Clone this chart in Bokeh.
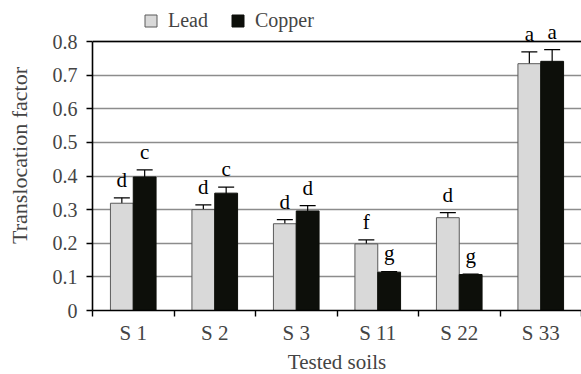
import numpy as np
from bokeh.plotting import figure
from bokeh.models import (ColumnDataSource, Whisker, TeeHead, LabelSet, Legend,
                          LegendItem, FixedTicker, Span, Range1d)
from bokeh.embed import file_html
from bokeh.resources import INLINE

soils = ["S 1", "S 2", "S 3", "S 11", "S 22", "S 33"]
lead = [0.319, 0.300, 0.258, 0.198, 0.276, 0.734]
lead_err = [0.016, 0.014, 0.012, 0.012, 0.015, 0.035]
copper = [0.397, 0.349, 0.296, 0.114, 0.107, 0.741]
copper_err = [0.021, 0.018, 0.016, 0.002, 0.001, 0.035]
lead_letters = ["d", "d", "d", "f", "d", "a"]
copper_letters = ["c", "c", "d", "g", "g", "a"]
y_ticks = [0, 0.1, 0.2, 0.3, 0.4, 0.5, 0.6, 0.7, 0.8]

FONT = "Liberation Serif"
BAR_W = 0.28

# layout: frame extends above the 0.8 line so labels/legend are not clipped
FRAME_W = 489
FRAME_H = 310
AXIS_PX = 269          # pixel height of 0 .. 0.8
y_top = y_ticks[-1] * FRAME_H / AXIS_PX

centers = np.arange(len(soils)) + 0.5

def make_source(vals, errs, letters, shift):
    v = np.array(vals)
    e = np.array(errs)
    return ColumnDataSource(dict(
        x=centers + shift, top=v, upper=v + e, lower=v - e, letter=letters))

src_lead = make_source(lead, lead_err, lead_letters, -BAR_W / 2)
src_cu = make_source(copper, copper_err, copper_letters, BAR_W / 2)

p = figure(frame_width=FRAME_W, frame_height=FRAME_H, output_backend="svg",
           toolbar_location=None,
           x_range=Range1d(0, len(soils)), y_range=Range1d(0, y_top),
           min_border_left=92, min_border_right=0, min_border_top=0,
           min_border_bottom=64)
p.outline_line_color = None
p.background_fill_color = "white"
p.border_fill_color = "white"

r_lead = p.vbar(x="x", top="top", width=BAR_W, source=src_lead,
                fill_color="#d9d9d9", line_color="#5a5a5a", line_width=1)
r_cu = p.vbar(x="x", top="top", width=BAR_W, source=src_cu,
              fill_color="#0d0f0a", line_color="#0d0f0a", line_width=1)

for src in (src_lead, src_cu):
    w = Whisker(source=src, base="x", upper="upper", lower="lower",
                line_color="black", line_width=1.2,
                upper_head=TeeHead(size=16, line_color="black", line_width=1.2),
                lower_head=TeeHead(size=16, line_color="black", line_width=1.2))
    p.add_layout(w)
    lab = LabelSet(source=src, x="x", y="upper", text="letter", y_offset=6,
                   text_align="center", text_baseline="bottom",
                   text_font=FONT, text_font_size="21px", text_color="black")
    p.add_layout(lab)

# grid
p.xgrid.visible = False
p.ygrid.ticker = FixedTicker(ticks=y_ticks)
p.ygrid.grid_line_color = "#8c8c8c"
p.ygrid.grid_line_width = 1.6
p.add_layout(Span(location=y_ticks[-1], dimension="width",
                  line_color="black", line_width=1.6))

# y axis
p.yaxis.bounds = (y_ticks[0], y_ticks[-1])
p.yaxis.ticker = FixedTicker(ticks=y_ticks)
p.yaxis.major_label_overrides = {0: "0"}
p.yaxis.axis_label = "Translocation factor"
p.yaxis.axis_label_text_font = FONT
p.yaxis.axis_label_text_font_size = "22px"
p.yaxis.axis_label_text_font_style = "normal"
p.yaxis.axis_label_standoff = 18
p.yaxis.major_label_text_font = FONT
p.yaxis.major_label_text_font_size = "20px"
p.yaxis.major_label_standoff = 9
p.yaxis.major_tick_out = 6
p.yaxis.major_tick_in = 0
p.yaxis.minor_tick_line_color = None
p.yaxis.axis_line_width = 1.6
p.yaxis.axis_line_color = "black"
p.yaxis.major_tick_line_color = "black"
p.yaxis.major_tick_line_width = 1.4

# x axis
p.xaxis.ticker = FixedTicker(ticks=list(centers),
                             minor_ticks=list(range(len(soils) + 1)))
p.xaxis.major_label_overrides = {float(c): s for c, s in zip(centers, soils)}
p.xaxis.major_tick_line_color = None
p.xaxis.major_tick_out = 0
p.xaxis.major_tick_in = 0
p.xaxis.minor_tick_out = 6
p.xaxis.minor_tick_in = 0
p.xaxis.minor_tick_line_color = "black"
p.xaxis.minor_tick_line_width = 1.4
p.xaxis.axis_line_color = "black"
p.xaxis.axis_line_width = 1.6
p.xaxis.major_label_text_font = FONT
p.xaxis.major_label_text_font_size = "21px"
p.xaxis.major_label_standoff = 4
p.xaxis.axis_label = "Tested soils"
p.xaxis.axis_label_text_font = FONT
p.xaxis.axis_label_text_font_size = "21px"
p.xaxis.axis_label_text_font_style = "normal"
p.xaxis.axis_label_standoff = 2

legend = Legend(items=[LegendItem(label="Lead", renderers=[r_lead]),
                       LegendItem(label="Copper", renderers=[r_cu])],
                orientation="horizontal", location=(51, 278),
                glyph_width=15, glyph_height=15, label_height=15,
                label_standoff=10, spacing=22, padding=0, margin=0,
                border_line_color=None, background_fill_alpha=0,
                label_text_font=FONT, label_text_font_size="20px")
p.add_layout(legend)

open("out.html", "w").write(file_html(p, INLINE))
